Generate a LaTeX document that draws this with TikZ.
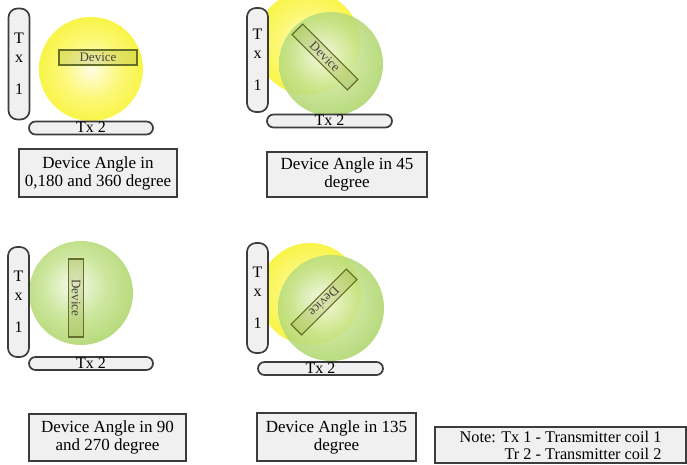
\documentclass[tikz,border=0pt]{standalone}
\usepackage{fontspec}
\setmainfont{Liberation Serif}
\definecolor{yc0}{RGB}{255,253,228}
\definecolor{yc1}{RGB}{252,248,120}
\definecolor{yc2}{RGB}{245,240,15}
\definecolor{yc3}{RGB}{238,234,25}
\definecolor{gc0}{RGB}{244,250,230}
\definecolor{gc1}{RGB}{196,226,142}
\definecolor{gc2}{RGB}{152,200,72}
\definecolor{gc3}{RGB}{150,196,88}
\definecolor{boxgray}{RGB}{240,240,240}
\definecolor{boxedge}{RGB}{60,60,60}
\definecolor{devedge}{RGB}{100,112,40}
\definecolor{devfill}{RGB}{140,150,40}
\definecolor{devtext}{RGB}{70,70,50}
\pgfdeclareradialshading{yball}{\pgfpoint{0bp}{0bp}}{color(0bp)=(yc0); color(14bp)=(yc1); color(38bp)=(yc2); color(50bp)=(yc3); color(60bp)=(yc3)}
\pgfdeclareradialshading{gball}{\pgfpoint{-4bp}{4bp}}{color(0bp)=(gc0); color(16bp)=(gc1); color(40bp)=(gc2); color(54bp)=(gc3); color(70bp)=(gc3)}
\begin{document}
\begin{tikzpicture}[x=1pt,y=-1pt,
  yellowball/.style={shading=yball},
  greenball/.style={shading=gball, opacity=0.88},
  dev/.style={draw=devedge, line width=1.2pt, fill=devfill, fill opacity=0.22, text opacity=1,
    text=devtext, minimum width=78pt, minimum height=15pt, inner sep=0pt,
    font=\fontsize{13}{13}\selectfont},
  txv/.style={draw=boxedge, line width=1.7pt, fill=boxgray, rounded corners=9pt,
    minimum width=21pt, inner sep=0pt, align=center, font=\fontsize{16}{19}\selectfont},
  txh/.style={draw=boxedge, line width=1.7pt, fill=boxgray, rounded corners=6.5pt,
    minimum height=13pt, text height=10pt, text depth=0pt, inner sep=0pt,
    font=\fontsize{16}{16}\selectfont},
  lbl/.style={draw=boxedge, line width=1.7pt, fill=boxgray, inner sep=0pt, align=center,
    font=\fontsize{17}{18}\selectfont}
]
\useasboundingbox (0,0) rectangle (687,465);

% Panel 1: 0, 180, 360 degree
\shade[yellowball] (91,69) circle[radius=52pt];
\node[dev] (d1) at (98,57.5) {Device};
\node[txv, minimum height=111pt] (ta1) at (19,64) {T\\x\\[13pt]1};
\node[txh, minimum width=124pt] (tb1) at (91,128) {Tx 2};
\node[lbl, minimum width=158pt, minimum height=48pt] (l1) at (98,173) {Device Angle in\\0,180 and 360 degree};

% Panel 2: 45 degree
\shade[yellowball] (308,43) circle[radius=52pt];
\shade[greenball] (331,64) circle[radius=52pt];
\node[dev, rotate=-45] (d2) at (325,57) {Device};
\node[txv, minimum height=104pt] (ta2) at (257.5,60) {T\\x\\[13pt]1};
\node[txh, minimum width=125pt] (tb2) at (329.5,121) {Tx 2};
\node[lbl, minimum width=160pt, minimum height=45pt] (l2) at (347,174.5) {Device Angle in 45\\degree};

% Panel 3: 90, 270 degree
\shade[greenball] (81,293) circle[radius=52pt];
\node[dev, rotate=-90] (d3) at (76,298) {Device};
\node[txv, minimum height=110pt] (ta3) at (18.5,302) {T\\x\\[13pt]1};
\node[txh, minimum width=124pt] (tb3) at (91,363.5) {Tx 2};
\node[lbl, minimum width=157pt, minimum height=47pt] (l3) at (107.5,437.5) {Device Angle in 90\\and 270 degree};

% Panel 4: 135 degree
\shade[yellowball] (310,294) circle[radius=51pt];
\shade[greenball] (331,308) circle[radius=53pt];
\node[dev, rotate=-135] (d4) at (324,302) {Device};
\node[txv, minimum height=110pt] (ta4) at (257.5,298) {T\\x\\[13pt]1};
\node[txh, minimum width=125pt] (tb4) at (320.5,368.5) {Tx 2};
\node[lbl, minimum width=159pt, minimum height=48pt] (l4) at (336.5,437) {Device Angle in 135\\degree};

% Note
\node[lbl, align=right, font=\fontsize{16.3}{17}\selectfont, minimum width=251pt, minimum height=36pt] (note) at (560.5,445) {Note: Tx 1 - Transmitter coil 1\\Tr 2 - Transmitter coil 2};
\end{tikzpicture}
\end{document}
